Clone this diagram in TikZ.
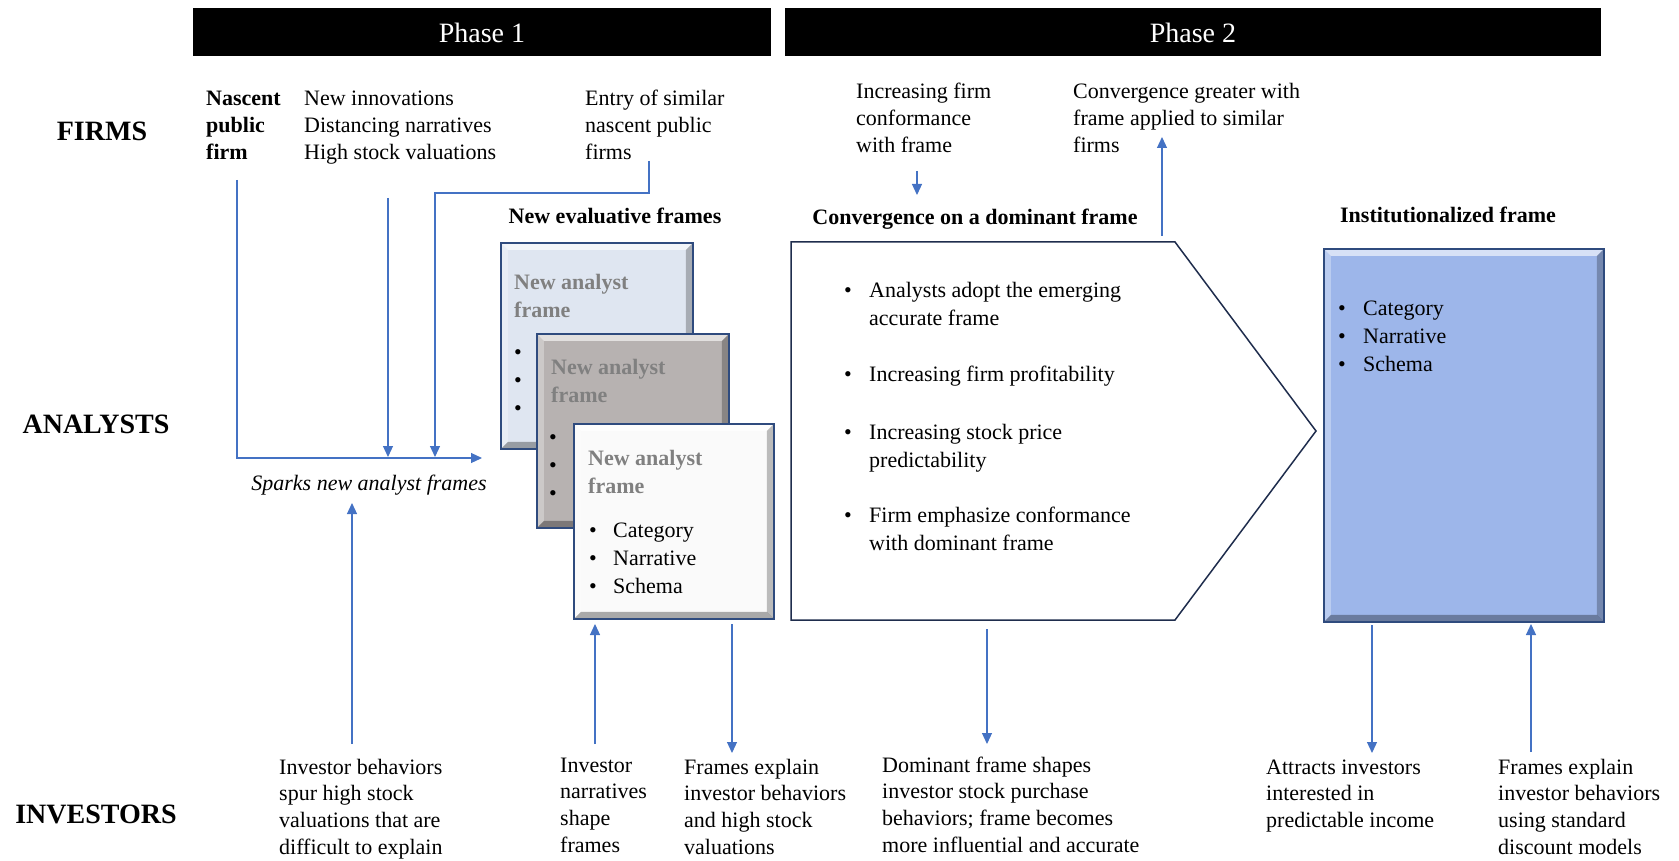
\documentclass[tikz,border=0pt]{standalone}
\usepackage{fontspec}
\setmainfont{Liberation Serif}
\usetikzlibrary{arrows.meta}
\definecolor{arrowblue}{HTML}{4472C4}
\definecolor{boxline}{HTML}{2F4B7E}
\definecolor{frameA}{HTML}{DFE6F1}
\definecolor{frameB}{HTML}{B7B2B1}
\definecolor{frameC}{HTML}{FAFAFA}
\definecolor{instfill}{HTML}{9DB6EA}
\definecolor{graytitle}{HTML}{808080}
\definecolor{pentline}{HTML}{1F2D4D}
\begin{document}
\begin{tikzpicture}[x=1pt,y=-1pt,
  txt/.style={font=\fontsize{22}{26.8}\selectfont, align=left, anchor=base west, inner sep=0pt},
  boxtxt/.style={font=\fontsize{22}{28}\selectfont, align=left, anchor=base west, inner sep=0pt},
  graytxt/.style={boxtxt, font=\fontsize{22}{28}\selectfont\bfseries, text=graytitle},
  head/.style={font=\fontsize{22}{26.8}\selectfont\bfseries, anchor=base, inner sep=0pt},
  rowlabel/.style={font=\fontsize{28}{32}\selectfont\bfseries, anchor=base, inner sep=0pt},
  phasebar/.style={fill=black, draw=none, anchor=north west, inner sep=0pt},
  phasetxt/.style={font=\fontsize{28}{32}\selectfont, text=white, anchor=base, inner sep=0pt},
  flow/.style={draw=arrowblue, line width=1.2pt, -{Triangle[width=10pt,length=11pt]}},
  bevel/.style={path picture={
    \path (path picture bounding box.north west) coordinate (bNW)
          (path picture bounding box.north east) coordinate (bNE)
          (path picture bounding box.south west) coordinate (bSW)
          (path picture bounding box.south east) coordinate (bSE);
    \fill[white,opacity=.6] (bNW) -- (bNE) -- ([shift={(-7,7)}]bNE) -- ([shift={(7,7)}]bNW) -- cycle;
    \fill[white,opacity=.3] (bNW) -- ([shift={(7,7)}]bNW) -- ([shift={(7,-7)}]bSW) -- (bSW) -- cycle;
    \fill[black,opacity=.25] (bNE) -- (bSE) -- ([shift={(-7,-7)}]bSE) -- ([shift={(-7,7)}]bNE) -- cycle;
    \fill[black,opacity=.32] (bSW) -- ([shift={(7,-7)}]bSW) -- ([shift={(-7,-7)}]bSE) -- (bSE) -- cycle;
  }},
  framebox/.style={draw=boxline, line width=1.8pt, anchor=north west, inner sep=0pt, bevel},
]
\useasboundingbox (0,0) rectangle (1679,861);

% Phase bars
\node[phasebar, minimum width=578pt, minimum height=48.5pt] (bar1) at (193,7.5) {};
\node[phasebar, minimum width=816pt, minimum height=48.5pt] (bar2) at (785,7.5) {};
\node[phasetxt] (ph1) at (482,43) {Phase 1};
\node[phasetxt] (ph2) at (1193,43) {Phase 2};

% Row labels
\node[rowlabel] (firms) at (102,141) {FIRMS};
\node[rowlabel] (analysts) at (96,433) {ANALYSTS};
\node[rowlabel] (investors) at (96,823) {INVESTORS};

% Firm texts phase 1 (anchor = baseline of last line)
\node[txt, font=\fontsize{22}{26.8}\selectfont\bfseries] (nascent) at (206,159.6) {Nascent\\public\\firm};
\node[txt] (innov) at (304,159.6) {New innovations\\Distancing narratives\\High stock valuations};
\node[txt] (entry) at (585,159.6) {Entry of similar\\nascent public\\firms};

% Sparks
\node[txt, anchor=base, font=\fontsize{22}{26.8}\selectfont\itshape] (sparks) at (369,490) {Sparks new analyst frames};

\coordinate (nascentTop) at (237,180);
\coordinate (corner1) at (237,458);
\coordinate (sparkEnd) at (482,458);
\coordinate (innovTop) at (388,198);
\coordinate (innovEnd) at (388,457);
\coordinate (entryTop) at (649,161);
\coordinate (entryC1) at (649,193);
\coordinate (entryC2) at (435,193);
\coordinate (entryEnd) at (435,457);
\draw[flow] (nascentTop) -- (corner1) -- (sparkEnd);
\draw[flow] (innovTop) -- (innovEnd);
\draw[flow] (entryTop) -- (entryC1) -- (entryC2) -- (entryEnd);

% Heading
\node[head] (newframes) at (615,224) {New evaluative frames};

% Frame boxes
\node[framebox, fill=frameA, minimum width=192pt, minimum height=206pt] (boxA) at (500,242) {};
\node[graytxt] (titleA) at (514,317) {New analyst\\frame};
\node[boxtxt] (bulA) at (514,415) {•\\•\\•};

\node[framebox, fill=frameB, minimum width=192pt, minimum height=194pt] (boxB) at (536,333) {};
\node[graytxt] (titleB) at (551,402) {New analyst\\frame};
\node[boxtxt] (bulB) at (549,500) {•\\•\\•};

\node[framebox, fill=frameC, minimum width=200pt, minimum height=195pt] (boxC) at (573,423) {};
\node[graytxt] (titleC) at (588,493) {New analyst\\frame};
\node[boxtxt] (bulC) at (589,593) {•\\•\\•};
\node[boxtxt] (listC) at (613,593) {Category\\Narrative\\Schema};

% Phase 1 investor arrows and texts
\node[txt] (invbeh) at (279,854.4) {Investor behaviors\\spur high stock\\valuations that are\\difficult to explain};
\node[txt] (invnar) at (560,852.4) {Investor\\narratives\\shape\\frames};
\node[txt] (frexp) at (684,854.4) {Frames explain\\investor behaviors\\and high stock\\valuations};

\coordinate (invbehTop) at (352,744);
\coordinate (sparksBot) at (352,503);
\draw[flow] (invbehTop) -- (sparksBot);
\coordinate (invnarTop) at (595,744);
\coordinate (boxCin) at (595,624);
\draw[flow] (invnarTop) -- (boxCin);
\coordinate (boxCout) at (732,624);
\coordinate (frexpTop) at (732,753);
\draw[flow] (boxCout) -- (frexpTop);

% Phase 2 firm texts
\node[txt] (conform) at (856,152.6) {Increasing firm\\conformance\\with frame};
\node[txt] (greater) at (1073,152.6) {Convergence greater with\\frame applied to similar\\firms};
\coordinate (conformBot) at (917,171);
\coordinate (convTop) at (917,195);
\draw[flow] (conformBot) -- (convTop);
\coordinate (pentTopOut) at (1162,236);
\coordinate (greaterBot) at (1162,137);
\draw[flow] (pentTopOut) -- (greaterBot);

% Convergence pentagon
\node[head] (convhead) at (975,225) {Convergence on a dominant frame};
\draw[draw=pentline, line width=1.5pt, fill=white]
  (791,242) coordinate (pNW) -- (1175,242) coordinate (pNE) -- (1316,431) coordinate (ptip)
  -- (1175,620) coordinate (pSE) -- (791,620) coordinate (pSW) -- cycle;
\node[boxtxt] (pb1) at (844,297) {•};
\node[boxtxt] (pt1) at (869,325) {Analysts adopt the emerging\\accurate frame};
\node[boxtxt] (pb2) at (844,381) {•};
\node[boxtxt] (pt2) at (869,381) {Increasing firm profitability};
\node[boxtxt] (pb3) at (844,439) {•};
\node[boxtxt] (pt3) at (869,467) {Increasing stock price\\predictability};
\node[boxtxt] (pb4) at (844,522) {•};
\node[boxtxt] (pt4) at (869,550) {Firm emphasize conformance\\with dominant frame};

\coordinate (pentBot) at (987,629);
\coordinate (domTop) at (987,744);
\draw[flow] (pentBot) -- (domTop);
\node[txt] (domtxt) at (882,852.4) {Dominant frame shapes\\investor stock purchase\\behaviors; frame becomes\\more influential and accurate};

% Institutionalized frame
\node[head] (insthead) at (1448,223) {Institutionalized frame};
\node[framebox, fill=instfill, minimum width=280pt, minimum height=373pt] (instbox) at (1323,248) {};
\node[boxtxt] (instbul) at (1338,371) {•\\•\\•};
\node[boxtxt] (instlist) at (1363,371) {Category\\Narrative\\Schema};

\coordinate (instOut) at (1372,625);
\coordinate (attrTop) at (1372,753);
\draw[flow] (instOut) -- (attrTop);
\coordinate (fr2Top) at (1531,752);
\coordinate (instIn) at (1531,624);
\draw[flow] (fr2Top) -- (instIn);
\node[txt] (attr) at (1266,827.6) {Attracts investors\\interested in\\predictable income};
\node[txt] (frexp2) at (1498,854.4) {Frames explain\\investor behaviors\\using standard\\discount models};
\end{tikzpicture}
\end{document}
